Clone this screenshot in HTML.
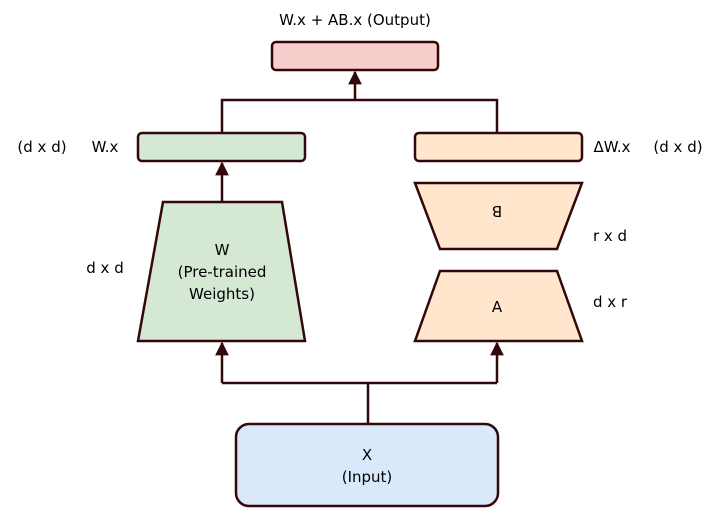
<!DOCTYPE html>
<html><head><meta charset="utf-8"><style>
html,body{margin:0;padding:0;background:#fff;}
svg{display:block;font-family:"DejaVu Sans","Liberation Sans",sans-serif;}
</style></head><body>
<svg width="720" height="508" viewBox="0 0 720 508">
<defs><marker id="ah" viewBox="0 0 10 10" refX="9" refY="5" markerWidth="5.5" markerHeight="5.5" orient="auto"><path d="M0,0 L10,5 L0,10 z" fill="#33080a"/></marker></defs>
<g stroke="#33080a" stroke-width="2.5" fill="none">
<path d="M222,133 V100 H497 V133"/>
<path d="M355,100 V72" marker-end="url(#ah)"/>
<path d="M222,202 V163" marker-end="url(#ah)"/>
<path d="M368,424 V383 M222,383 H497"/>
<path d="M222,383 V343" marker-end="url(#ah)"/>
<path d="M497,383 V343" marker-end="url(#ah)"/>
</g>
<g stroke="#33080a" stroke-width="2.5">
<rect x="272" y="42" width="166" height="28" rx="4" fill="#f8cecc"/>
<rect x="138" y="133" width="167" height="28" rx="4" fill="#d5e8d4"/>
<rect x="415" y="133" width="167" height="28" rx="4" fill="#ffe6cc"/>
<polygon points="163,202 282,202 305,341 138,341" fill="#d5e8d4"/>
<polygon points="415,183 582,183 557,249 440,249" fill="#ffe6cc"/>
<polygon points="440,271 557,271 582,341 415,341" fill="#ffe6cc"/>
<rect x="236" y="424" width="262" height="82" rx="13" fill="#dae8fc"/>
</g>
<g font-size="15" fill="#000" text-anchor="middle">
<text x="42" y="152">(d x d)</text>
<text x="355" y="25">W.x + AB.x (Output)</text>
<text x="105" y="152">W.x</text>
<text x="612" y="152">ΔW.x</text>
<text x="678" y="152">(d x d)</text>
<text x="105" y="273">d x d</text>
<text x="222" y="255">W</text>
<text x="222" y="277">(Pre-trained</text>
<text x="222" y="299">Weights)</text>
<text x="497" y="216" transform="rotate(180 497 211)">B</text>
<text x="610" y="241">r x d</text>
<text x="497" y="312">A</text>
<text x="610" y="307">d x r</text>
<text x="367" y="460">X</text>
<text x="367" y="482">(Input)</text>
</g>
</svg>
</body></html>
